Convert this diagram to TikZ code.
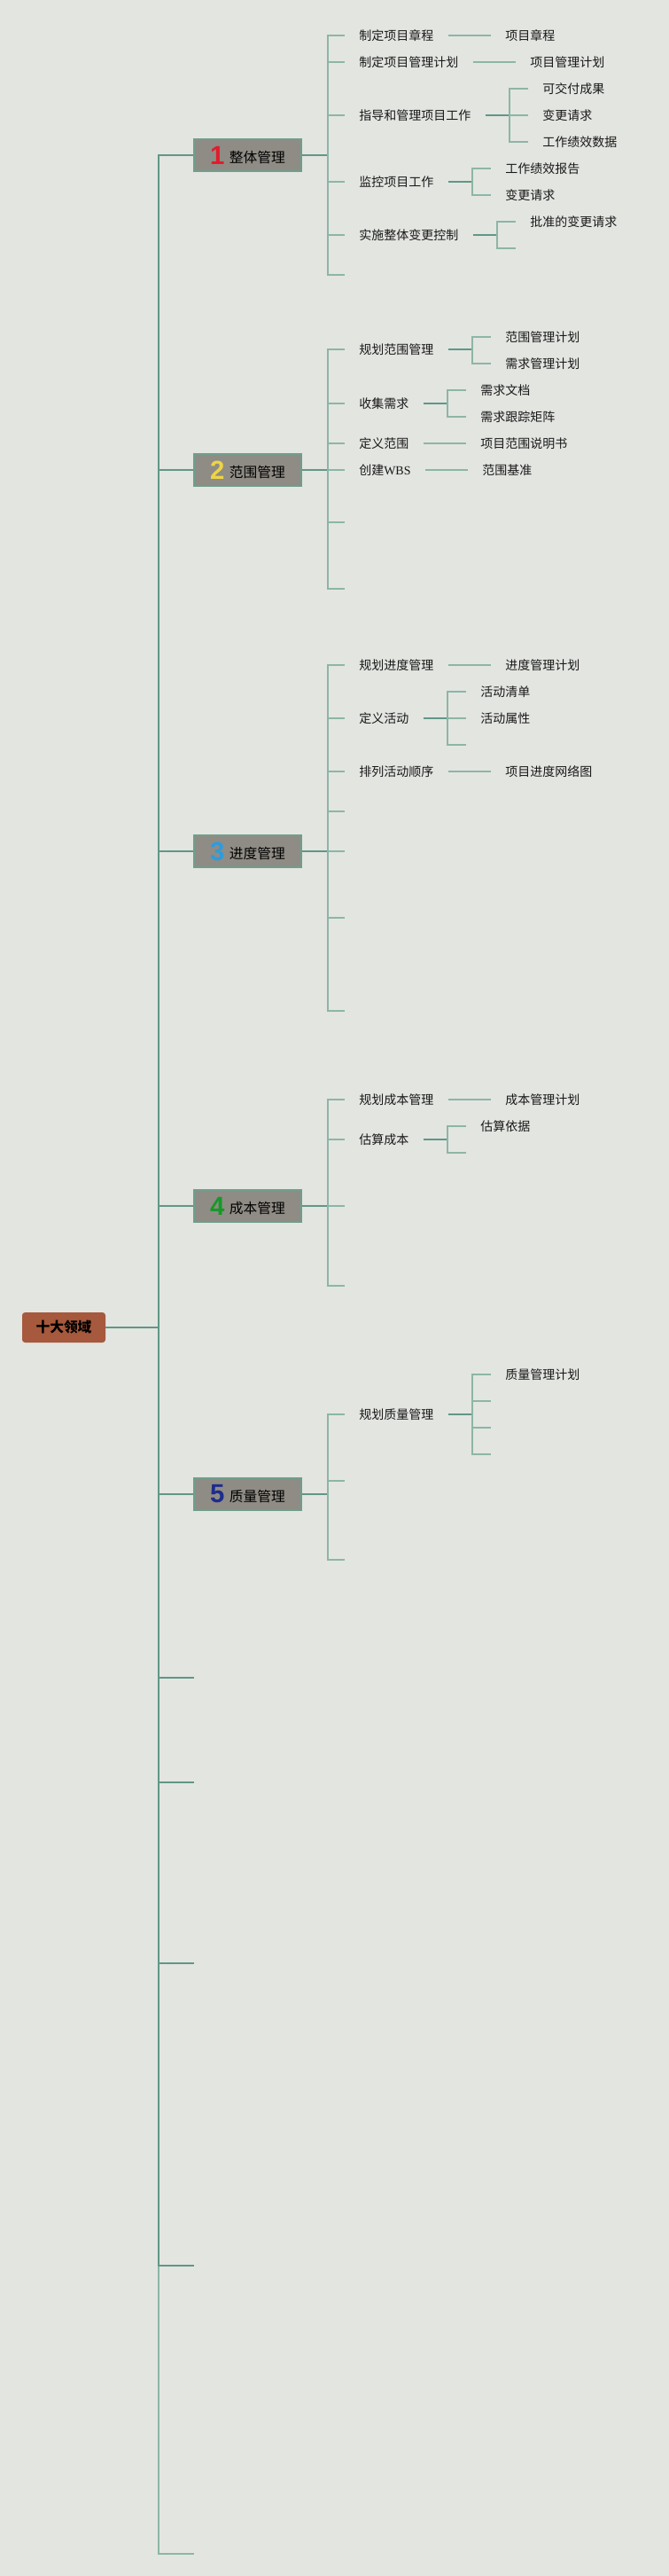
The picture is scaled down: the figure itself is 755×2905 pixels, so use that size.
\documentclass[tikz,border=0pt]{standalone}
\usepackage{fontspec}
\setmainfont{Noto Sans CJK SC}
\newfontfamily\numfont{Liberation Sans}
\newfontfamily\wbsfont{Liberation Serif}

\definecolor{bgc}{RGB}{227,229,225}
\definecolor{stemc}{RGB}{96,151,135}
\definecolor{twigc}{RGB}{140,182,166}
\definecolor{boxc}{RGB}{143,140,133}
\definecolor{boxline}{RGB}{112,158,140}
\definecolor{rootc}{RGB}{166,89,60}
\definecolor{cone}{RGB}{226,28,44}
\definecolor{ctwo}{RGB}{236,212,70}
\definecolor{cthree}{RGB}{44,156,222}
\definecolor{cfour}{RGB}{22,152,40}
\definecolor{cfive}{RGB}{30,44,140}

% 带编号的领域标题
\newcommand{\topic}[3]{{\numfont\bfseries\fontsize{22}{22}\selectfont\color{#1}#2}\hspace{4pt}\raisebox{1pt}{#3}}

\begin{document}
\begin{tikzpicture}[x=0.75pt, y=-0.75pt,
  stem/.style={draw=stemc, line width=1.1pt},
  fork/.style={draw=stemc, line width=1.5pt},
  twig/.style={draw=twigc, line width=1pt},
  area/.style={draw=boxline, line width=0.8pt, fill=boxc, minimum width=90.75pt, minimum height=27pt, inner sep=0pt, font=\fontsize{11.8}{12}\selectfont},
  item/.style={anchor=west, inner xsep=12pt, inner ysep=2pt, font=\fontsize{10.5}{12}\selectfont, text=black!90},
  root/.style={fill=rootc, rounded corners=2.5pt, minimum width=70.5pt, minimum height=25.5pt, inner sep=0pt, font=\fontsize{11.8}{12}\selectfont\bfseries}]
\useasboundingbox (0,0) rectangle (755,2905);
\fill[bgc] (0,0) rectangle (755,2905);

% 根节点与主干
\node[root] (root) at (72,1497) {十大领域};
\coordinate (m) at (179,1497);

\node[area] (a1) at (279.5,175) {\topic{cone}{1}{整体管理}};
\node[area] (a2) at (279.5,530) {\topic{ctwo}{2}{范围管理}};
\node[area] (a3) at (279.5,960) {\topic{cthree}{3}{进度管理}};
\node[area] (a4) at (279.5,1360) {\topic{cfour}{4}{成本管理}};
\node[area] (a5) at (279.5,1685) {\topic{cfive}{5}{质量管理}};
\coordinate (e1) at (219,1892);
\coordinate (e2) at (219,2010);
\coordinate (e3) at (219,2214);
\coordinate (e4) at (219,2555);
\coordinate (e5) at (219,2880);

\draw[stem, draw=twigc] (m) |- (e5);
\draw[stem] (root.east) -- (m);
\foreach \a in {a1,a2,a3,a4,a5} \draw[stem] (m) |- (\a.west);
\foreach \e in {e1,e2,e3,e4} \draw[stem] (m) |- (\e);

% 1 整体管理
\coordinate (s1) at (370,175);
\node[item] (n11) at (389,40) {制定项目章程};
\node[item] (n12) at (389,70) {制定项目管理计划};
\node[item] (n13) at (389,130) {指导和管理项目工作};
\node[item] (n14) at (389,205) {监控项目工作};
\node[item] (n15) at (389,265) {实施整体变更控制};
\coordinate (n16) at (389,310);
\draw[fork] (a1.east) -- (s1);
\foreach \n in {n11,n12,n13,n14,n15} \draw[twig] (s1) |- (\n.west);
\draw[twig] (s1) |- (n16);

\node[item] (l11) at (554,40) {项目章程};
\draw[twig] (n11.east) -- (l11.west);
\node[item] (l12) at (582,70) {项目管理计划};
\draw[twig] (n12.east) -- (l12.west);
\coordinate (k13) at (575,130);
\node[item] (l131) at (596,100) {可交付成果};
\node[item] (l132) at (596,130) {变更请求};
\node[item] (l133) at (596,160) {工作绩效数据};
\draw[fork] (n13.east) -- (k13);
\foreach \l in {l131,l132,l133} \draw[twig] (k13) |- (\l.west);
\coordinate (k14) at (533,205);
\node[item] (l141) at (554,190) {工作绩效报告};
\node[item] (l142) at (554,220) {变更请求};
\draw[fork] (n14.east) -- (k14);
\foreach \l in {l141,l142} \draw[twig] (k14) |- (\l.west);
\coordinate (k15) at (561,265);
\node[item] (l151) at (582,250) {批准的变更请求};
\coordinate (l152) at (582,280);
\draw[fork] (n15.east) -- (k15);
\draw[twig] (k15) |- (l151.west);
\draw[twig] (k15) |- (l152);

% 2 范围管理
\coordinate (s2) at (370,530);
\node[item] (n21) at (389,394) {规划范围管理};
\node[item] (n22) at (389,455) {收集需求};
\node[item] (n23) at (389,500) {定义范围};
\node[item] (n24) at (389,530) {创建{\wbsfont WBS}};
\coordinate (n25) at (389,589);
\coordinate (n26) at (389,664);
\draw[fork] (a2.east) -- (s2);
\foreach \n in {n21,n22,n23,n24} \draw[twig] (s2) |- (\n.west);
\foreach \n in {n25,n26} \draw[twig] (s2) |- (\n);

\coordinate (k21) at (533,394);
\node[item] (l211) at (554,380) {范围管理计划};
\node[item] (l212) at (554,410) {需求管理计划};
\draw[fork] (n21.east) -- (k21);
\foreach \l in {l211,l212} \draw[twig] (k21) |- (\l.west);
\coordinate (k22) at (505,455);
\node[item] (l221) at (526,440) {需求文档};
\node[item] (l222) at (526,470) {需求跟踪矩阵};
\draw[fork] (n22.east) -- (k22);
\foreach \l in {l221,l222} \draw[twig] (k22) |- (\l.west);
\node[item] (l23) at (526,500) {项目范围说明书};
\draw[twig] (n23.east) -- (l23.west);
\node[item] (l24) at (528,530) {范围基准};
\draw[twig] (n24.east) -- (l24.west);

% 3 进度管理
\coordinate (s3) at (370,960);
\node[item] (n31) at (389,750) {规划进度管理};
\node[item] (n32) at (389,810) {定义活动};
\node[item] (n33) at (389,870) {排列活动顺序};
\coordinate (n34) at (389,915);
\coordinate (n35) at (389,960);
\coordinate (n36) at (389,1035);
\coordinate (n37) at (389,1140);
\draw[fork] (a3.east) -- (s3);
\foreach \n in {n31,n32,n33} \draw[twig] (s3) |- (\n.west);
\foreach \n in {n34,n35,n36,n37} \draw[twig] (s3) |- (\n);

\node[item] (l31) at (554,750) {进度管理计划};
\draw[twig] (n31.east) -- (l31.west);
\coordinate (k32) at (505,810);
\node[item] (l321) at (526,780) {活动清单};
\node[item] (l322) at (526,810) {活动属性};
\coordinate (l323) at (526,840);
\draw[fork] (n32.east) -- (k32);
\foreach \l in {l321,l322} \draw[twig] (k32) |- (\l.west);
\draw[twig] (k32) |- (l323);
\node[item] (l33) at (554,870) {项目进度网络图};
\draw[twig] (n33.east) -- (l33.west);

% 4 成本管理
\coordinate (s4) at (370,1360);
\node[item] (n41) at (389,1240) {规划成本管理};
\node[item] (n42) at (389,1285) {估算成本};
\coordinate (n43) at (389,1360);
\coordinate (n44) at (389,1450);
\draw[fork] (a4.east) -- (s4);
\foreach \n in {n41,n42} \draw[twig] (s4) |- (\n.west);
\foreach \n in {n43,n44} \draw[twig] (s4) |- (\n);

\node[item] (l41) at (554,1240) {成本管理计划};
\draw[twig] (n41.east) -- (l41.west);
\coordinate (k42) at (505,1285);
\node[item] (l421) at (526,1270) {估算依据};
\coordinate (l422) at (526,1300);
\draw[fork] (n42.east) -- (k42);
\draw[twig] (k42) |- (l421.west);
\draw[twig] (k42) |- (l422);

% 5 质量管理
\coordinate (s5) at (370,1685);
\node[item] (n51) at (389,1595) {规划质量管理};
\coordinate (n52) at (389,1670);
\coordinate (n53) at (389,1759);
\draw[fork] (a5.east) -- (s5);
\draw[twig] (s5) |- (n51.west);
\foreach \n in {n52,n53} \draw[twig] (s5) |- (\n);

\coordinate (k51) at (533,1595);
\node[item] (l511) at (554,1550) {质量管理计划};
\coordinate (l512) at (554,1580);
\coordinate (l513) at (554,1610);
\coordinate (l514) at (554,1640);
\draw[fork] (n51.east) -- (k51);
\draw[twig] (k51) |- (l511.west);
\foreach \l in {l512,l513,l514} \draw[twig] (k51) |- (\l);
\end{tikzpicture}
\end{document}
